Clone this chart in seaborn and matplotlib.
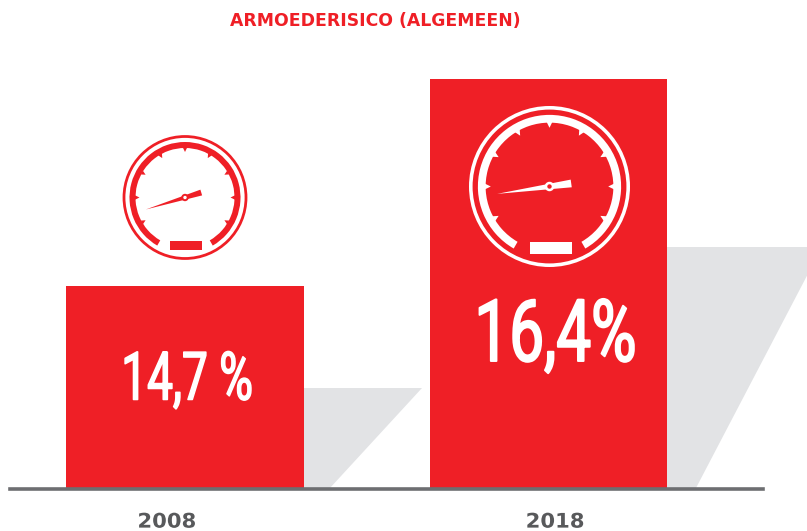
"""Armoederisico 2008/2018: two red bars with gauges and slanted grey shadows."""
import numpy as np
import pandas as pd
import matplotlib
matplotlib.use("Agg")
import matplotlib.pyplot as plt
import matplotlib.patheffects as pe
from matplotlib.patches import Circle, Polygon, Rectangle, Wedge
from matplotlib.transforms import Affine2D
import seaborn as sns

years = ["2008", "2018"]
risk = [14.7, 16.4]
value_labels = ["14,7 %", "16,4%"]
title = "ARMOEDERISICO (ALGEMEEN)"

RED = "#EF1F26"
GREY = "#E2E3E5"
LINE = "#6D6E71"
LABEL = "#58595B"
W, H = 807, 531


class Squeeze(pe.AbstractPathEffect):
    """Rescale a text horizontally around its centre (no condensed font installed)."""

    def __init__(self, factor, stroke=0):
        super().__init__()
        self.factor = factor
        self.stroke = stroke

    def draw_path(self, renderer, gc, tpath, affine, rgbFace=None):
        ext = tpath.get_extents()
        mid = (ext.x0 + ext.x1) / 2
        squeeze = Affine2D().translate(-mid, 0).scale(self.factor, 1).translate(mid, 0)
        gc0 = renderer.new_gc()
        gc0.copy_properties(gc)
        gc0.set_foreground(rgbFace)
        gc0.set_linewidth(self.stroke)
        renderer.draw_path(gc0, tpath, squeeze + affine, rgbFace)
        gc0.restore()


def draw_gauge(ax, px, cx, cy, r, color, needle_deg, plate):
    """Speedometer icon, sizes relative to outer radius r (62 = small one)."""
    k = r / 62
    c = np.array([cx, cy])
    ax.add_patch(Circle(c, r - 1 * k, fill=False, ec=color, lw=2.0 * k, transform=px, zorder=4))
    # pixel space has y pointing down, so 90 degrees is the bottom of the dial
    ax.add_patch(Wedge(c, 55.5 * k, 120, 420, width=6 * k, fc=color, ec="none", lw=0,
                       transform=px, zorder=4))
    for a in np.deg2rad(np.arange(150, 391, 30)):
        d = np.array([np.cos(a), np.sin(a)])
        n = np.array([-d[1], d[0]])
        tri = [c + d * 50 * k + n * 2.2 * k, c + d * 50 * k - n * 2.2 * k, c + d * 45.5 * k]
        ax.add_patch(Polygon(tri, fc=color, ec="none", lw=0, transform=px, zorder=4))
    a = np.deg2rad(needle_deg)
    d = np.array([np.cos(a), np.sin(a)])
    n = np.array([-d[1], d[0]])
    needle = [c - d * 41 * k, c + d * 17 * k + n * 3 * k, c + d * 17 * k - n * 3 * k]
    ax.add_patch(Polygon(needle, fc=color, ec="none", lw=0, transform=px, zorder=4))
    bg = "white" if color == RED else RED
    ax.add_patch(Circle(c, 2.7 * k, fc=bg, ec=color, lw=1.4 * k, transform=px, zorder=5))
    ax.add_patch(Rectangle((plate[0], plate[1]), plate[2], plate[3], fc=color, ec="none", lw=0,
                           transform=px, zorder=4))


sns.set_theme(style="white")
df = pd.DataFrame({"year": years, "risk": risk})

fig = plt.figure(figsize=(W / 100, H / 100), dpi=100)
ax = fig.add_axes([10 / W, (H - 489) / H, 753 / W, 489 / H])
ax.patch.set_alpha(0)
sns.barplot(data=df, x="year", y="risk", color=RED, saturation=1, width=0.652, linewidth=0, ax=ax, zorder=2)
ax.set_xlim(-0.4814, 1.590)
ax.set_ylim(13.025, 17.05)
ax.set_xlabel("")
ax.set_ylabel("")
ax.set_yticks([])
# year labels are not centred under the bars in the source
ax.set_xticks([-0.05, 1.018])
ax.set_xticklabels(years, fontsize=14.5, fontweight="bold", color=LABEL)
for lab in ax.get_xticklabels():
    lab.set_path_effects([Squeeze(1.05)])
ax.tick_params(axis="x", length=0, pad=17)
sns.despine(ax=ax, left=True)
ax.spines["bottom"].set_color(LINE)
ax.spines["bottom"].set_linewidth(2.6)
ax.spines["bottom"].set_zorder(6)

# pixel coordinates, y down, for the decoration
px = Affine2D().scale(1, -1).translate(0, H)

for pts in ([(304, 388), (422, 388), (330, 488), (304, 488)],
            [(667, 247), (822, 247), (696, 488), (667, 488)]):
    ax.add_patch(Polygon(pts, fc=GREY, ec="none", lw=0, transform=px, clip_on=False, zorder=1))

draw_gauge(ax, px, 185, 197.5, 62, RED, -17, (170, 241, 32, 8.5))
draw_gauge(ax, px, 549.5, 186.5, 80, "white", -8, (530, 242, 42, 12))

ax.text(375, 26, title, transform=px, ha="center", va="baseline", color=RED,
        fontsize=12.4, fontweight="bold", clip_on=False)
ax.text(186.5, 399.5, value_labels[0], transform=px, ha="center", va="baseline", color="white",
        family="Roboto", fontsize=48, path_effects=[Squeeze(0.69, stroke=1.1)], zorder=5)
ax.text(555, 361, value_labels[1], transform=px, ha="center", va="baseline", color="white",
        family="Roboto", fontsize=62, path_effects=[Squeeze(0.72, stroke=1.4)], zorder=5)

fig.savefig("out.png", dpi=100)
